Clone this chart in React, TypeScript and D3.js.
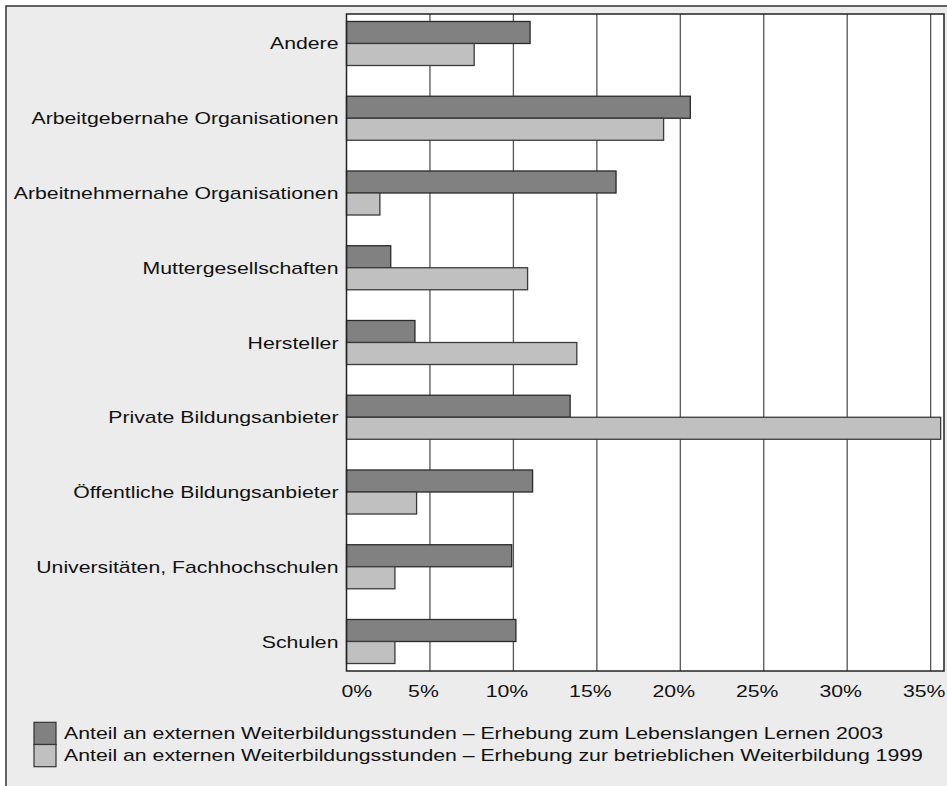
import React, { useEffect, useRef } from 'react'
import { scaleBand, scaleLinear, select } from 'd3'

const categories = [
    'Andere',
    'Arbeitgebernahe Organisationen',
    'Arbeitnehmernahe Organisationen',
    'Muttergesellschaften',
    'Hersteller',
    'Private Bildungsanbieter',
    'Öffentliche Bildungsanbieter',
    'Universitäten, Fachhochschulen',
    'Schulen'
]

// Erhebung zum Lebenslangen Lernen 2003
const values2003 = [11.0, 20.6, 16.15, 2.65, 4.1, 13.4, 11.15, 9.9, 10.15]
// Erhebung zur betrieblichen Weiterbildung 1999
const values1999 = [7.65, 19.0, 2.0, 10.85, 13.8, 35.6, 4.2, 2.9, 2.9]

const tickValues = [0, 5, 10, 15, 20, 25, 30, 35]
const tickLabels = ['0%', '5%', '10%', '15%', '20%', '25%', '30%', '35%']

const seriesNames = [
    'Anteil an externen Weiterbildungsstunden \u2013 Erhebung zum Lebenslangen Lernen 2003',
    'Anteil an externen Weiterbildungsstunden \u2013 Erhebung zur betrieblichen Weiterbildung 1999'
]

const WIDTH = 947
const HEIGHT = 786
const FONT = '"Liberation Sans", Arial, Helvetica, sans-serif'
const STRETCH = 1.25
const colors = ['#818181', '#c0c0c0']
const strokes = ['#2a2a2a', '#3a3a3a']

const plot = { left: 346.5, right: 944, top: 14, bottom: 671 }

// the original text is drawn a bit wider than normal, so each label is stretched
const addText = (parent, x, y, str, anchor) => {
    parent.append('g')
        .attr('transform', `translate(${x},${y}) scale(${STRETCH},1)`)
        .append('text')
        .attr('text-anchor', anchor)
        .attr('font-family', FONT)
        .attr('font-size', 17)
        .attr('fill', '#111')
        .text(str)
}

const App = () => {
    const svgRef = useRef(null)

    useEffect(() => {
        const svg = select(svgRef.current)
        svg.selectAll('*').remove()

        // frame
        svg.append('rect')
            .attr('x', 6).attr('y', 6)
            .attr('width', 1200).attr('height', 1200)
            .attr('fill', '#ececec')
            .attr('stroke', '#333')
            .attr('stroke-width', 1.5)

        const x = scaleLinear()
            .domain([0, 35.8])
            .range([plot.left, plot.right])

        const y = scaleBand()
            .domain(categories)
            .range([plot.top, plot.bottom])
            .paddingInner(0.411)
            .paddingOuter(0.1)

        const half = y.bandwidth() / 2

        // plot background
        svg.append('rect')
            .attr('x', plot.left).attr('y', plot.top)
            .attr('width', plot.right - plot.left)
            .attr('height', plot.bottom - plot.top)
            .attr('fill', '#fff')

        // grid
        svg.append('g')
            .selectAll('line')
            .data(tickValues.slice(1))
            .enter()
            .append('line')
            .attr('x1', (d) => x(d)).attr('x2', (d) => x(d))
            .attr('y1', plot.top).attr('y2', plot.bottom)
            .attr('stroke', '#555')
            .attr('stroke-width', 1.3)

        // bars
        const series = [values2003, values1999]
        series.forEach((vals, s) => {
            svg.append('g')
                .selectAll('rect')
                .data(vals)
                .enter()
                .append('rect')
                .attr('x', x(0))
                .attr('y', (d, i) => y(categories[i]) + s * half)
                .attr('width', (d) => x(d) - x(0))
                .attr('height', half)
                .attr('fill', colors[s])
                .attr('stroke', strokes[s])
                .attr('stroke-width', 1.3)
        })

        // plot border
        svg.append('rect')
            .attr('x', plot.left).attr('y', plot.top)
            .attr('width', plot.right - plot.left)
            .attr('height', plot.bottom - plot.top)
            .attr('fill', 'none')
            .attr('stroke', '#222')
            .attr('stroke-width', 1.5)

        // category labels
        categories.forEach((c) => {
            addText(svg, plot.left - 8, y(c) + half + 6, c, 'end')
        })

        // x tick labels
        tickValues.forEach((t, i) => {
            if (i === 0) addText(svg, x(t) - 5, 697, tickLabels[i], 'start')
            else addText(svg, x(t) - 6.5, 697, tickLabels[i], 'middle')
        })

        // legend
        seriesNames.forEach((name, i) => {
            svg.append('rect')
                .attr('x', 34)
                .attr('y', 722.3 + i * 22.2)
                .attr('width', 22)
                .attr('height', 22.2)
                .attr('fill', colors[i])
                .attr('stroke', '#333')
                .attr('stroke-width', 1.2)
            addText(svg, 64, 739 + i * 22.3, name, 'start')
        })
    }, [])

    return (
        <svg
            ref={svgRef}
            width={WIDTH}
            height={HEIGHT}
            style={{ position: 'absolute', left: 0, top: 0, background: '#fff' }}
        />
    )
}

export default App
